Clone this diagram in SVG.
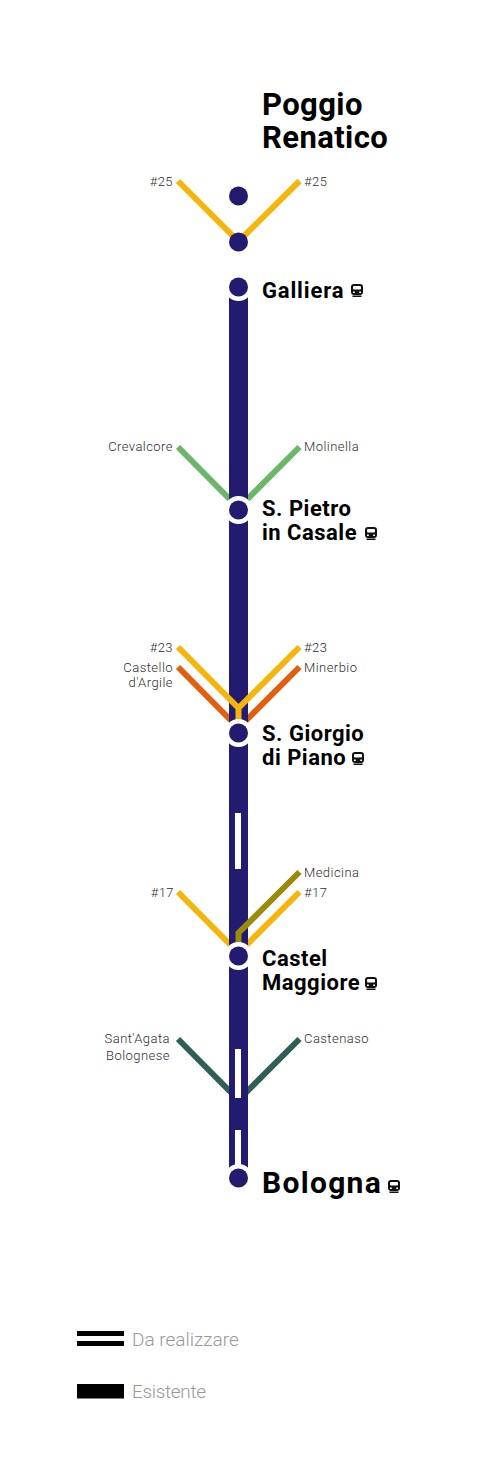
<svg xmlns="http://www.w3.org/2000/svg" width="500" height="1475" viewBox="0 0 500 1475">
<style>
text{font-family:"Roboto","Liberation Sans",sans-serif}
.st{font-weight:700;font-size:22px;fill:#000;letter-spacing:.5px}
.big{font-weight:700;font-size:31px;fill:#000;letter-spacing:.4px}
.bo{font-size:30px;letter-spacing:1.300px}
.lb{font-size:13px;fill:#2e2e2e;font-weight:300;letter-spacing:.45px}
.e{text-anchor:end}
.lg{font-size:19px;fill:#999;font-weight:300}
.c{fill:none;stroke-width:6}
.ye{stroke:#f5b50c}.gr{stroke:#6db56a}.or{stroke:#e0600f}.ol{stroke:#9c8b0b}.dg{stroke:#2f5e57}
.dot{fill:#231b6f}.ring{fill:#231b6f;stroke:#fff;stroke-width:9;paint-order:stroke}
</style>
<defs>
<g id="bus"><rect x="0" y="0" width="12" height="11" rx="3" fill="#111"/><rect x="2" y="2" width="8" height="3.500" rx="1" fill="#fff"/><rect x="2" y="7.500" width="1.800" height="1.500" fill="#fff"/><rect x="8.200" y="7.500" width="1.800" height="1.500" fill="#fff"/><rect x="1.500" y="11.500" width="9" height="1.500" fill="#111"/></g>
</defs>
<g id="connectors">
<path class="c ye" d="M178 181L238.500 241.500L299.500 181"/>
<path class="c gr" d="M178 447L238.500 508L299.500 447"/>
<path class="c or" d="M178 667L238.500 728L299.500 667"/>
<path class="c ye" d="M178 892L238.500 953L299.500 892"/>
<path class="c dg" d="M178 1039L238.500 1100L299.500 1039"/>
<rect x="229" y="296" width="19" height="872" fill="#231b6f"/>
<path class="c ye" d="M178 647L238.500 708L299.500 647M238.500 708V722"/>
<path class="c ol" d="M299.500 872L238.500 933V942"/>
<rect x="235" y="813" width="6" height="56" fill="#fff"/>
<rect x="235" y="1049" width="6" height="49" fill="#fff"/>
<rect x="235" y="1130" width="6" height="38" fill="#fff"/>
</g>
<g id="poggio"><circle class="dot" cx="238.500" cy="196" r="9.500"/><circle class="dot" cx="238.500" cy="242" r="9.500"/>
<text class="big" x="262" y="115">Poggio</text><text class="big" x="262" y="148">Renatico</text>
<text class="lb e" x="173" y="186">#25</text><text class="lb" x="304" y="186">#25</text></g>
<g id="galliera"><circle class="ring" cx="238.500" cy="287" r="9.500"/><text class="st" x="262" y="298" textLength="82">Galliera</text><use href="#bus" x="351" y="284"/></g>
<g id="pietro"><circle class="ring" cx="238.500" cy="510" r="9.500"/><text class="st" x="262" y="516">S. Pietro</text><text class="st" x="262" y="540">in Casale</text><use href="#bus" x="365" y="527"/>
<text class="lb e" x="173" y="451">Crevalcore</text><text class="lb" x="304" y="451">Molinella</text></g>
<g id="giorgio"><circle class="ring" cx="238.500" cy="733" r="9.500"/><text class="st" x="262" y="741">S. Giorgio</text><text class="st" x="262" y="765">di Piano</text><use href="#bus" x="352" y="752"/>
<text class="lb e" x="173" y="652">#23</text><text class="lb" x="304" y="652">#23</text><text class="lb e" x="173" y="672">Castello</text><text class="lb e" x="173" y="687">d'Argile</text><text class="lb" x="304" y="672">Minerbio</text></g>
<g id="castel"><circle class="ring" cx="238.500" cy="956" r="9.500"/><text class="st" x="262" y="966">Castel</text><text class="st" x="262" y="990">Maggiore</text><use href="#bus" x="365" y="977"/>
<text class="lb e" x="174" y="897">#17</text><text class="lb" x="304" y="897">#17</text><text class="lb" x="304" y="877">Medicina</text></g>
<g id="bologna"><circle class="ring" cx="238.500" cy="1178" r="9.500"/><text class="big bo" x="262" y="1193">Bologna</text><use href="#bus" x="388" y="1180"/>
<text class="lb e" x="170" y="1043">Sant'Agata</text><text class="lb e" x="170" y="1060">Bolognese</text><text class="lb" x="304" y="1043">Castenaso</text></g>
<g id="legend"><rect x="77" y="1331" width="47" height="5" fill="#000"/><rect x="77" y="1341" width="47" height="5" fill="#000"/><text class="lg" x="132" y="1346">Da realizzare</text>
<rect x="77" y="1384" width="47" height="14.500" fill="#000"/><text class="lg" x="132" y="1398" textLength="74">Esistente</text></g>
</svg>
